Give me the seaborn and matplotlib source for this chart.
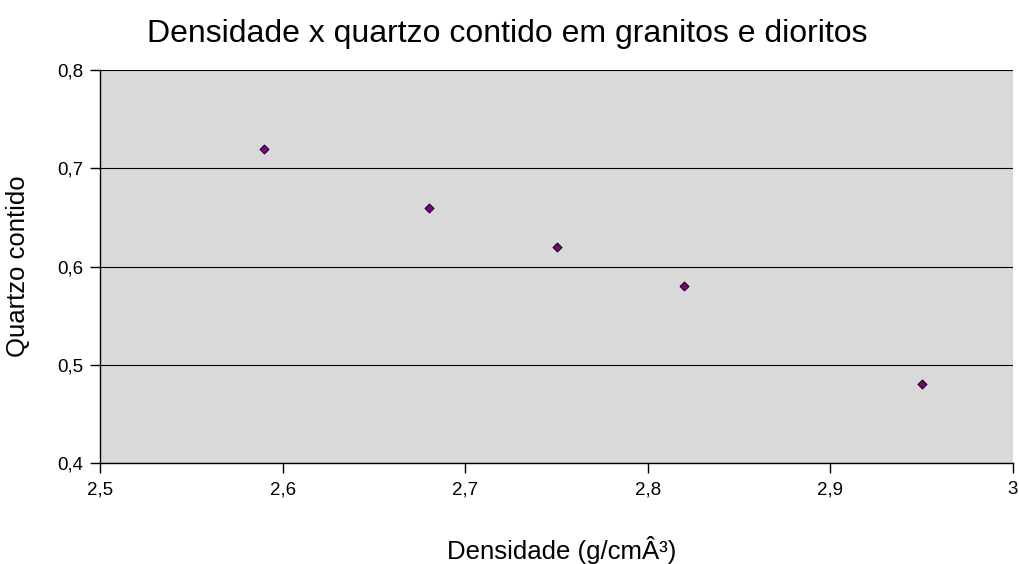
import matplotlib.pyplot as plt
import seaborn as sns
import pandas as pd
from matplotlib.ticker import FuncFormatter

densidade = [2.59, 2.68, 2.75, 2.82, 2.95]
quartzo = [0.72, 0.66, 0.62, 0.58, 0.48]

df = pd.DataFrame({"Densidade": densidade, "Quartzo": quartzo})

sns.set_style("white")
plt.rcParams['font.family'] = ['Liberation Sans', 'DejaVu Sans']
plt.rcParams['text.color'] = 'black'
plt.rcParams['axes.labelcolor'] = 'black'
plt.rcParams['xtick.color'] = 'black'
plt.rcParams['ytick.color'] = 'black'

fig = plt.figure(figsize=(10.2, 5.64), dpi=100)
ax = fig.add_axes([100 / 1020, 1 - 463 / 564, 913 / 1020, 393 / 564])
ax.set_facecolor("#d9d9d9")

sns.scatterplot(data=df, x="Densidade", y="Quartzo", ax=ax, marker="D", s=20,
                color="#800080", edgecolor="#1a001a", linewidth=0.8, zorder=3)

ax.set_xlim(2.5, 3.0)
ax.set_ylim(0.4, 0.8)
ax.set_xticks([2.5, 2.6, 2.7, 2.8, 2.9, 3.0])
ax.set_yticks([0.4, 0.5, 0.6, 0.7, 0.8])
fmt = FuncFormatter(lambda v, p: ("%g" % round(v, 2)).replace(".", ","))
ax.xaxis.set_major_formatter(fmt)
ax.yaxis.set_major_formatter(fmt)

ax.yaxis.grid(True, color="black", linewidth=0.8)
ax.set_axisbelow(True)
for side in ["top", "right"]:
    ax.spines[side].set_visible(False)
for side in ["left", "bottom"]:
    ax.spines[side].set_color("black")
    ax.spines[side].set_linewidth(1.0)

ax.tick_params(axis="both", which="major", direction="out", length=7, width=1,
               color="black", labelsize=13.5, bottom=True, left=True)
ax.tick_params(axis="y", pad=5)
ax.tick_params(axis="x", pad=6)

ax.set_xlabel("Densidade (g/cmÂ³)", fontsize=18.5)
ax.xaxis.set_label_coords(0.506, -0.185)
ax.set_ylabel("Quartzo contido", fontsize=18.5)
ax.yaxis.set_label_coords(-0.077, 0.5)
fig.text(0.497, 0.940, "Densidade x quartzo contido em granitos e dioritos",
         fontsize=23, ha="center", va="center")

plt.savefig("out.png", dpi=100)
